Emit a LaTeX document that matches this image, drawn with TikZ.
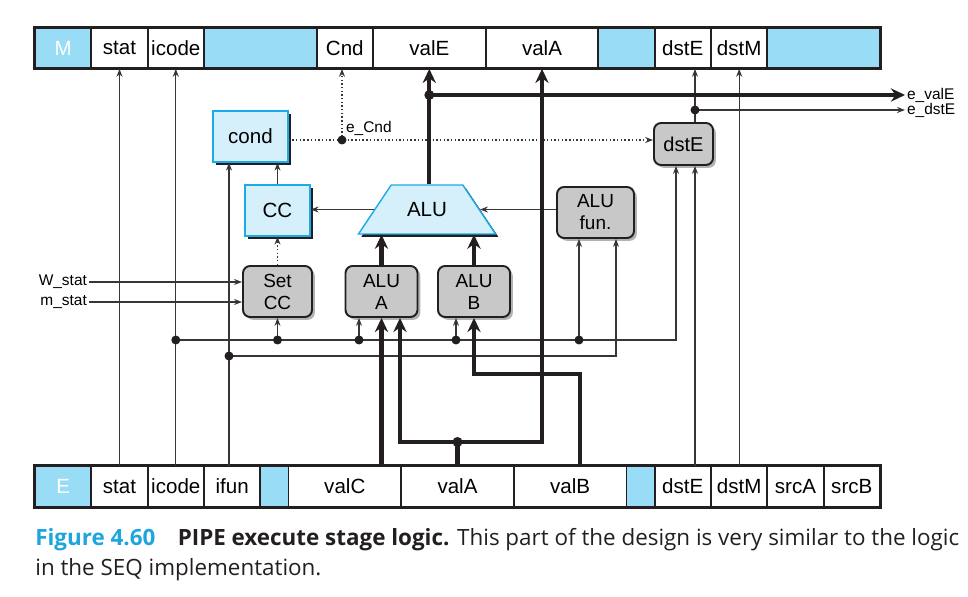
\documentclass[tikz,border=0pt]{standalone}
\usepackage{fontspec}
\setmainfont{Liberation Sans}
\newfontfamily\capfont{Open Sans}
\usepackage{tikz}
\usetikzlibrary{arrows.meta,shapes.geometric,shadows}
\definecolor{regblue}{RGB}{152,220,246}
\definecolor{hwfill}{RGB}{214,240,251}
\definecolor{hwedge}{RGB}{28,170,232}
\definecolor{boxgray}{RGB}{200,200,200}
\definecolor{capblue}{RGB}{30,165,222}
\definecolor{ink}{RGB}{35,31,32}

\begin{document}
\begin{tikzpicture}[x=0.02cm,y=-0.02cm,
  reg/.style={draw=ink,line width=1pt,minimum height=0.8cm,inner sep=0pt,font=\fontsize{11.7}{14}\selectfont},
  regfill/.style={reg,fill=regblue,text=white},
  u1/.style={minimum width=1.127cm},
  u2/.style={minimum width=2.253cm},
  uh/.style={minimum width=0.563cm},
  hw/.style={draw=hwedge,line width=0.8pt,fill=hwfill,minimum height=1.02cm,inner sep=0pt,font=\fontsize{11.7}{14}\selectfont,drop shadow={shadow xshift=1.6pt,shadow yshift=-1.6pt,fill=ink,opacity=1}},
  logic/.style={draw=ink,line width=1.1pt,rounded corners=4pt,fill=boxgray,minimum height=1.02cm,inner sep=0pt,align=center,font=\fontsize{10.8}{12.5}\selectfont,drop shadow={shadow xshift=1.6pt,shadow yshift=-1.6pt,fill=black!30,opacity=1}},
  lbl/.style={inner sep=1pt,font=\fontsize{8.8}{10}\selectfont},
  wire/.style={draw=ink!90,line width=0.7pt},
  dotwire/.style={wire,line width=0.8pt,dash pattern=on 0.8pt off 1.3pt},
  bus/.style={draw=ink,line width=2.3pt},
  tip/.style={-{Stealth[length=4.5pt,width=3.4pt]}},
  bustip/.style={-{Stealth[length=8pt,width=7.5pt]}}
]
\useasboundingbox (0,0) rectangle (968,597);

\node[regfill,u1] (MM) at (63.2,48) {M\hspace{0.3cm}};
\node[reg,u1] (Mstat) at (119.5,48) {stat};
\node[reg,u1] (Micode) at (175.8,48) {icode};
\node[regfill,u2] (Mgap) at (260.3,48) {};
\node[reg,u1] (MCnd) at (344.8,48) {Cnd};
\node[reg,u2] (MvalE) at (429.3,48) {valE};
\node[reg,u2] (MvalA) at (542,48) {valA};
\node[regfill,u1] (Mgapb) at (626.5,48) {};
\node[reg,u1] (MdstE) at (682.8,48) {dstE};
\node[reg,u1] (MdstM) at (739.2,48) {dstM};
\node[regfill,u2] (Mtail) at (823.7,48) {};
\draw[ink,line width=1.7pt] (MM.north west) rectangle (Mtail.south east);

\node[regfill,u1] (EE) at (63.2,486.5) {E\hspace{0.3cm}};
\node[reg,u1] (Estat) at (119.5,486.5) {stat};
\node[reg,u1] (Eicode) at (175.8,486.5) {icode};
\node[reg,u1] (Eifun) at (232.2,486.5) {ifun};
\node[regfill,uh] (Egap) at (274.4,486.5) {};
\node[reg,u2] (EvalC) at (344.8,486.5) {valC};
\node[reg,u2] (EvalA) at (457.5,486.5) {valA};
\node[reg,u2] (EvalB) at (570.2,486.5) {valB};
\node[regfill,uh] (Egapb) at (640.6,486.5) {};
\node[reg,u1] (EdstE) at (682.8,486.5) {dstE};
\node[reg,u1] (EdstM) at (739.2,486.5) {dstM};
\node[reg,u1] (EsrcA) at (795.5,486.5) {srcA};
\node[reg,u1] (EsrcB) at (851.8,486.5) {srcB};
\draw[ink,line width=1.7pt] (EE.north west) rectangle (EsrcB.south east);

\node[hw,minimum width=1.5cm] (cond) at (250.5,136.5) {cond};
\node[hw,minimum width=1.3cm] (CC) at (277.5,210.5) {CC};
\node[hw,trapezium,trapezium angle=56,trapezium stretches body,inner xsep=0pt,inner ysep=9.7pt,minimum width=2.74cm,minimum height=0.98cm] (ALU) at (427,209.5) {ALU};
\node[logic,minimum width=1.54cm] (ALUfun) at (595.5,212.5) {ALU\\fun.};
\node[logic,minimum width=1.38cm] (SetCC) at (277.5,291.5) {Set\\CC};
\node[logic,minimum width=1.44cm] (ALUA) at (381.5,291.5) {ALU\\A};
\node[logic,minimum width=1.44cm] (ALUB) at (474,291.5) {ALU\\B};
\node[logic,minimum width=1.18cm,minimum height=0.84cm,font=\fontsize{11.4}{13}\selectfont] (dstEb) at (683.5,144) {dstE};

\node[lbl,anchor=east] (Wstat) at (89,282) {W\_stat};
\node[lbl,anchor=east] (mstat) at (89,302) {m\_stat};
\node[lbl,anchor=west] (eCnd) at (344,128) {e\_Cnd};
\node[lbl,anchor=west] (evalE) at (905,95) {e\_valE};
\node[lbl,anchor=west] (edstE) at (905,110) {e\_dstE};

\coordinate (jI) at (175.8,340);
\coordinate (tS) at (277.5,340);
\coordinate (tA) at (359,340);
\coordinate (tB) at (456,340);
\coordinate (tF) at (579,340);
\coordinate (jF) at (229,356);
\coordinate (jA) at (457.5,442);
\coordinate (kB) at (580,374);
\coordinate (jE) at (429.3,95);
\coordinate (jC) at (342,140);
\coordinate (jD) at (695,110);

\draw[wire,tip] (Estat.north) -- (Mstat.south);
\draw[wire,tip] (Eicode.north) -- (Micode.south);
\draw[wire,tip] (EdstM.north) -- (MdstM.south);
\draw[wire,tip] (Eifun.north -| jF) -- (jF |- cond.south);
\draw[wire,tip] (jI) -| ([xshift=-0.15cm]dstEb.south);
\draw[wire,tip] (jF) -| ([xshift=0.41cm]ALUfun.south);
\draw[wire,tip] (tS) -- (SetCC.south);
\draw[wire,tip] (tA) -- (tA |- ALUA.south);
\draw[wire,tip] (tB) -- (tB |- ALUB.south);
\draw[wire,tip] (tF) -- (tF |- ALUfun.south);
\draw[wire,tip] (CC.north) -- (CC.north |- cond.south);
\draw[dotwire,tip] (SetCC.north) -- (CC.south);
\draw[wire,tip] (Wstat.east) -- (Wstat.east -| SetCC.west);
\draw[wire,tip] (mstat.east) -- (mstat.east -| SetCC.west);
\draw[wire,tip] (ALU.left side) -- (ALU.left side -| CC.east);
\draw[wire,tip] (ALU.right side -| ALUfun.west) -- (ALU.right side);
\draw[dotwire,tip] (cond.east |- jC) -- (jC -| dstEb.west);
\draw[dotwire,tip] (jC) -- (jC |- MCnd.south);
\draw[wire,tip] (EdstE.north -| jD) -- (jD |- dstEb.south);
\draw[wire] (jD |- dstEb.north) -- (jD);
\draw[wire,tip] (jD) -- (jD |- MdstE.south);
\draw[wire,tip] (jD) -- (edstE.west);

\draw[bus,bustip] (ALUA.north) -- (ALUA.north |- ALU.south);
\draw[bus,bustip] (ALUB.north) -- (ALUB.north |- ALU.south);
\draw[bus,bustip] (MvalE.south |- ALU.north) -- (MvalE.south);
\draw[bus,bustip] (jE) -- (evalE.west);
\draw[bus,bustip] (EvalC.north -| ALUA.south) -- (ALUA.south);
\draw[bus] (EvalA.north) -- (jA);
\draw[bus,bustip] (jA) -| ([xshift=0.37cm]ALUA.south);
\draw[bus,bustip] (jA) -| (MvalA.south);
\draw[bus,bustip] (EvalB.north -| kB) -- (kB) -| (ALUB.south);

\fill[ink] (jI) circle (0.09cm);
\fill[ink] (tS) circle (0.09cm);
\fill[ink] (tA) circle (0.09cm);
\fill[ink] (tB) circle (0.09cm);
\fill[ink] (tF) circle (0.09cm);
\fill[ink] (jF) circle (0.09cm);
\fill[ink] (jC) circle (0.09cm);
\fill[ink] (jD) circle (0.09cm);
\fill[ink] (jE) circle (0.1cm);
\fill[ink] (jA) circle (0.1cm);

\node[anchor=base west,inner sep=0pt,text=ink,font=\capfont\fontsize{12.75}{14}\selectfont] (capA) at (35,545.5) {\textcolor{capblue}{\bfseries Figure 4.60}\hspace{1em}{\bfseries PIPE execute stage logic.} This part of the design is very similar to the logic};
\node[anchor=base west,inner sep=0pt,text=ink,font=\capfont\fontsize{12.75}{14}\selectfont] (capB) at (35,576) {in the SEQ implementation.};
\end{tikzpicture}
\end{document}
